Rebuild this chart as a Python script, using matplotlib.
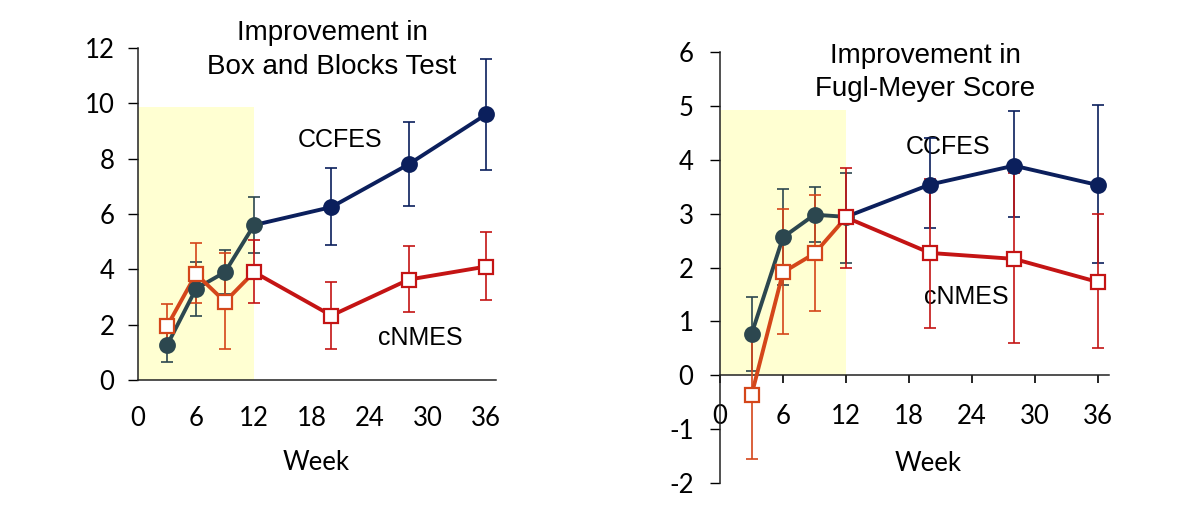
import numpy as np
import matplotlib.pyplot as plt
from matplotlib.patches import Rectangle

plt.rcParams['axes.unicode_minus'] = False

# data
weeks = [3, 6, 9, 12, 20, 28, 36]

bbt_ccfes = [1.25, 3.3, 3.9, 5.6, 6.25, 7.8, 9.6]
bbt_ccfes_lo = [0.66, 2.33, 3.1, 4.6, 4.88, 6.28, 7.59]
bbt_ccfes_hi = [1.8, 4.25, 4.7, 6.6, 7.65, 9.34, 11.62]
bbt_cnmes = [1.94, 3.83, 2.83, 3.9, 2.33, 3.63, 4.1]
bbt_cnmes_lo = [1.1, 2.77, 1.12, 2.8, 1.12, 2.45, 2.89]
bbt_cnmes_hi = [2.75, 4.94, 4.59, 5.06, 3.55, 4.83, 5.35]

fm_ccfes = [0.76, 2.56, 2.98, 2.94, 3.54, 3.89, 3.53]
fm_ccfes_lo = [0.07, 1.68, 2.47, 2.09, 2.73, 2.93, 2.09]
fm_ccfes_hi = [1.45, 3.45, 3.5, 3.75, 4.4, 4.9, 5.01]
fm_cnmes = [-0.37, 1.91, 2.26, 2.93, 2.27, 2.16, 1.73]
fm_cnmes_lo = [-1.55, 0.76, 1.19, 2.0, 0.88, 0.59, 0.5]
fm_cnmes_hi = [0.8, 3.09, 3.34, 3.85, 3.65, 3.75, 3.0]

xticks = [0, 6, 12, 18, 24, 30, 36]

SLATE = '#2c474f'
NAVY = '#0b1f5c'
ORANGE = '#d4461a'
RED = '#c41414'
SHADE = '#ffffd2'

tickfont = 'Lato'
textfont = 'Liberation Sans'


def draw_series(ax, y, lo, hi, early_col, late_col, marker, face, n_early_err, z):
    x = np.array(weeks, dtype=float)
    y = np.array(y)
    lo = np.array(lo)
    hi = np.array(hi)
    err = np.vstack([y - lo, hi - y])
    for idx, col in [(slice(0, n_early_err), early_col), (slice(n_early_err, None), late_col)]:
        ax.errorbar(x[idx], y[idx], yerr=err[:, idx], fmt='none', ecolor=col,
                    elinewidth=1.2, capsize=4, capthick=1.2, zorder=z)
    ax.plot(x[:4], y[:4], color=early_col, lw=2.8, zorder=z + 2)
    ax.plot(x[3:], y[3:], color=late_col, lw=2.8, zorder=z + 2)
    fc_e = early_col if face is None else face
    fc_l = late_col if face is None else face
    ax.plot(x[:n_early_err], y[:n_early_err], ls='none', marker=marker, ms=10.5,
            mfc=fc_e, mec=early_col, mew=1.6, zorder=z + 4)
    ax.plot(x[n_early_err:], y[n_early_err:], ls='none', marker=marker, ms=10.5,
            mfc=fc_l, mec=late_col, mew=1.6, zorder=z + 4)


fig = plt.figure(figsize=(11.92, 5.18), dpi=100)

# left panel: Box and Blocks
ax1 = fig.add_axes([138 / 1192, 1 - 380 / 518, 357.8 / 1192, 332 / 518])
ax1.add_patch(Rectangle((0, 0), 12, 9.85, color=SHADE, lw=0, zorder=0))
draw_series(ax1, bbt_ccfes, bbt_ccfes_lo, bbt_ccfes_hi, SLATE, NAVY, 'o', None, 4, 2)
draw_series(ax1, bbt_cnmes, bbt_cnmes_lo, bbt_cnmes_hi, ORANGE, RED, 's', 'white', 3, 3)
ax1.set_xlim(0, 37)
ax1.set_ylim(0, 12)
ax1.set_yticks(range(0, 13, 2))
ax1.set_xticks(xticks)
ax1.tick_params(axis='x', length=0, pad=19)
ax1.tick_params(axis='y', length=7, width=1, pad=10)
ax1.spines['top'].set_visible(False)
ax1.spines['right'].set_visible(False)
ax1.text(20.9, 8.66, 'CCFES', fontsize=18, family=textfont, ha='center', va='center')
ax1.text(29.2, 1.52, 'cNMES', fontsize=18, family=textfont, ha='center', va='center')
ax1.set_xlabel('Week', fontsize=18.5, family=tickfont)
ax1.xaxis.set_label_coords(0.497, -0.21)

# right panel: Fugl-Meyer
ax2 = fig.add_axes([720 / 1192, 1 - 483 / 518, 388.5 / 1192, 431 / 518])
ax2.add_patch(Rectangle((0, 0), 12, 4.92, color=SHADE, lw=0, zorder=0))
draw_series(ax2, fm_ccfes, fm_ccfes_lo, fm_ccfes_hi, SLATE, NAVY, 'o', None, 4, 2)
draw_series(ax2, fm_cnmes, fm_cnmes_lo, fm_cnmes_hi, ORANGE, RED, 's', 'white', 3, 3)
ax2.set_xlim(0, 37)
ax2.set_ylim(-2, 6)
ax2.set_yticks(range(-2, 7))
ax2.set_xticks(xticks)
ax2.spines['bottom'].set_position(('data', 0))
ax2.spines['top'].set_visible(False)
ax2.spines['right'].set_visible(False)
ax2.tick_params(axis='x', length=6, width=1.2, pad=15)
ax2.tick_params(axis='y', length=7, width=1, pad=12)
ax2.text(21.7, 4.23, 'CCFES', fontsize=18, family=textfont, ha='center', va='center', zorder=1)
ax2.text(23.5, 1.45, 'cNMES', fontsize=18, family=textfont, ha='center', va='center', zorder=1)
ax2.set_xlabel('Week', fontsize=18.5, family=tickfont)
ax2.xaxis.set_label_coords(0.535, 0.075)

for ax in (ax1, ax2):
    for lab in ax.get_xticklabels() + ax.get_yticklabels():
        lab.set_family(tickfont)
        lab.set_fontsize(18.5)
    for s in ax.spines.values():
        s.set_linewidth(1.1)
        s.set_color('#222222')
    ax.set_facecolor('none')

# titles
fig.text(332 / 1192, 1 - 33 / 518, 'Improvement in', fontsize=20, family=textfont, ha='center', va='center')
fig.text(332 / 1192, 1 - 67 / 518, 'Box and Blocks Test', fontsize=20, family=textfont, ha='center', va='center')
fig.text(925 / 1192, 1 - 56 / 518, 'Improvement in', fontsize=20, family=textfont, ha='center', va='center')
fig.text(925 / 1192, 1 - 89 / 518, 'Fugl-Meyer Score', fontsize=20, family=textfont, ha='center', va='center')

fig.savefig('out.png', dpi=100)
